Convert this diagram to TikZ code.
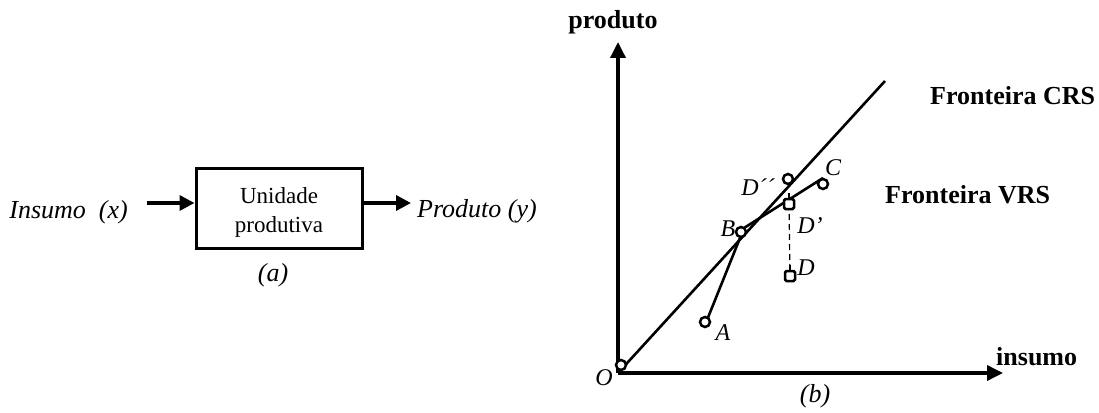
\documentclass[tikz,border=0pt]{standalone}
\usepackage{fontspec}
\setmainfont{Liberation Serif}
\usetikzlibrary{arrows.meta}
\tikzset{
  it/.style={font=\fontsize{26}{28}\selectfont\itshape, inner sep=0pt},
  ptlab/.style={font=\fontsize{24}{26}\selectfont\itshape, inner sep=0pt},
  bflab/.style={font=\fontsize{26}{28}\selectfont\bfseries, inner sep=0pt},
  unitbox/.style={draw, line width=3pt, minimum width=166pt, minimum height=80pt, inner sep=0pt},
  boxtext/.style={align=center, font=\fontsize{23}{29}\selectfont, inner sep=0pt},
  arr/.style={line width=3.5pt, -{Triangle[length=15pt,width=15pt]}},
  axisline/.style={line width=3.5pt, -{Triangle[length=16pt,width=15pt]}},
  fline/.style={line width=2.6pt},
  mk/.style={draw, line width=2.5pt, fill=white, circle, minimum size=10pt, inner sep=0pt},
  mksq/.style={draw, line width=2.5pt, fill=white, rectangle, rounded corners=1.5pt, minimum size=10pt, inner sep=0pt},
}
\begin{document}
\begin{tikzpicture}[x=1pt,y=-1pt]
\useasboundingbox (0,0) rectangle (1099,412);
% (a)
\node[unitbox] (unit) at (279,208) {};
\node[boxtext] (ut) at (279,212) {Unidade\\produtiva};
\node[it, anchor=base east] (in) at (128,218) {Insumo\ \ (x)};
\node[it, anchor=base west] (out) at (417,217) {Produto (y)};
\node[it] (la) at (273,275) {(a)};
\coordinate (ain) at (147,203);
\coordinate (aout) at (411,203);
\draw[arr] (ain) -- (unit.west |- ain);
\draw[arr] (unit.east |- aout) -- (aout);
% (b)
\coordinate (O) at (618,373);
\coordinate (ytip) at (618,42);
\coordinate (xtip) at (1003,373);
\coordinate (crs) at (885,81);
\draw[axisline] (O) -- (ytip);
\draw[axisline] (O) -- (xtip);
\draw[fline] (O) -- (crs);
\node[bflab] (prod) at (613,22) {produto};
\node[bflab, anchor=west] (ins) at (996,357) {insumo};
\node[bflab, anchor=west] (fcrs) at (930,96) {Fronteira CRS};
\node[bflab, anchor=west] (fvrs) at (885,195) {Fronteira VRS};
\node[ptlab] (lo) at (604,378) {O};
\node[it] (lb) at (815,396) {(b)};
% points
\coordinate (A) at (705,322);
\coordinate (B) at (741,232);
\coordinate (C) at (823,184);
\coordinate (Dpp) at (788,179);
\coordinate (Dp) at (789,204);
\coordinate (D) at (790,276);
\draw[fline] ([yshift=-3pt]A) -- ([xshift=3pt,yshift=4pt]B);
\draw[fline] ([xshift=3pt,yshift=4pt]B) -- ([yshift=6pt]C);
\draw[line width=1.2pt, dash pattern=on 6pt off 4pt] (Dp) -- (D);
\draw[line width=2.5pt] (Dp) -- ++(0,-11);
\draw[line width=2.5pt] (D) -- ++(0,-11);
\node[mk] (mA) at (A) {};
\node[mk] (mB) at (B) {};
\node[mk] (mC) at (C) {};
\node[mk] (mDpp) at (Dpp) {};
\node[mksq] (mDp) at (Dp) {};
\node[mksq] (mD) at (D) {};
\node[mk] (mO) at (621,365) {};
\node[ptlab] (tA) at (723,333) {A};
\node[ptlab] (tB) at (728,229) {B};
\node[ptlab] (tC) at (833,168) {C};
\node[ptlab] (tDpp) at (758,187) {D´´};
\node[ptlab] (tDp) at (810,226) {D’};
\node[ptlab] (tD) at (806,268) {D};
\end{tikzpicture}
\end{document}
